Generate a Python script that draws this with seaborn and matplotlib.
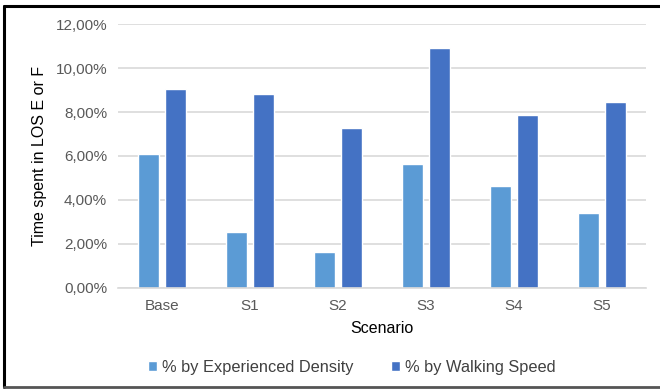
import matplotlib
matplotlib.use("Agg")
import matplotlib.pyplot as plt
from matplotlib.lines import Line2D
from matplotlib.ticker import FuncFormatter
import seaborn as sns
import pandas as pd

scenarios = ["Base", "S1", "S2", "S3", "S4", "S5"]
density_pct = [6.09, 2.55, 1.64, 5.64, 4.64, 3.39]
walking_pct = [9.06, 8.80, 7.27, 10.90, 7.85, 8.47]
series_names = ["% by Experienced Density", "% by Walking Speed"]

df = pd.DataFrame({
    "Scenario": scenarios * 2,
    "value": density_pct + walking_pct,
    "series": [series_names[0]] * 6 + [series_names[1]] * 6,
})

sns.set_style("white")
plt.rcParams["font.family"] = ["Liberation Sans", "DejaVu Sans"]

fig = plt.figure(figsize=(6.6, 3.9), dpi=100)
ax = fig.add_axes([0.179, 0.262, 0.800, 0.676])

sns.barplot(data=df, x="Scenario", y="value", hue="series",
            palette=["#5B9BD5", "#4472C4"], width=0.614, gap=0.22,
            saturation=1, ax=ax, legend=True)

ax.set_ylim(0, 12)
ax.set_yticks(range(0, 13, 2))
ax.yaxis.set_major_formatter(FuncFormatter(lambda v, p: f"{v:.2f}%".replace(".", ",")))
ax.set_xlim(-0.5, 5.5)
ax.grid(axis="y", color="#d9d9d9", linewidth=1.2)
ax.set_axisbelow(True)
for s in ["top", "right", "left"]:
    ax.spines[s].set_visible(False)
ax.spines["bottom"].set_color("#d9d9d9")
ax.spines["bottom"].set_linewidth(1.2)
ax.tick_params(axis="both", length=0, labelsize=11, colors="#595959", pad=8)
ax.set_xlabel("Scenario", fontsize=11.5, color="black", labelpad=6)
ax.set_ylabel("Time spent in LOS E or F", fontsize=11.5, color="black", labelpad=6)

handles, labels = ax.get_legend_handles_labels()
ax.legend(handles, labels, loc="center", bbox_to_anchor=(0.443, -0.303),
          ncol=2, frameon=False, fontsize=11.8, handlelength=0.55, handleheight=0.55,
          handletextpad=0.3, columnspacing=2.3)
for t in ax.get_legend().get_texts():
    t.set_color("#404040")

# outer frame
fig.add_artist(Line2D([4 / 660, 1.0], [1 - 5.5 / 390] * 2, color="black", lw=2.2,
                      transform=fig.transFigure))
fig.add_artist(Line2D([4 / 660] * 2, [1 - 5.5 / 390, 1 - 387 / 390], color="black", lw=2.2,
                      transform=fig.transFigure))
fig.add_artist(Line2D([4 / 660, 1.0], [1 - 387 / 390] * 2, color="#555555", lw=2,
                      transform=fig.transFigure))

fig.savefig("out.png", dpi=100)
